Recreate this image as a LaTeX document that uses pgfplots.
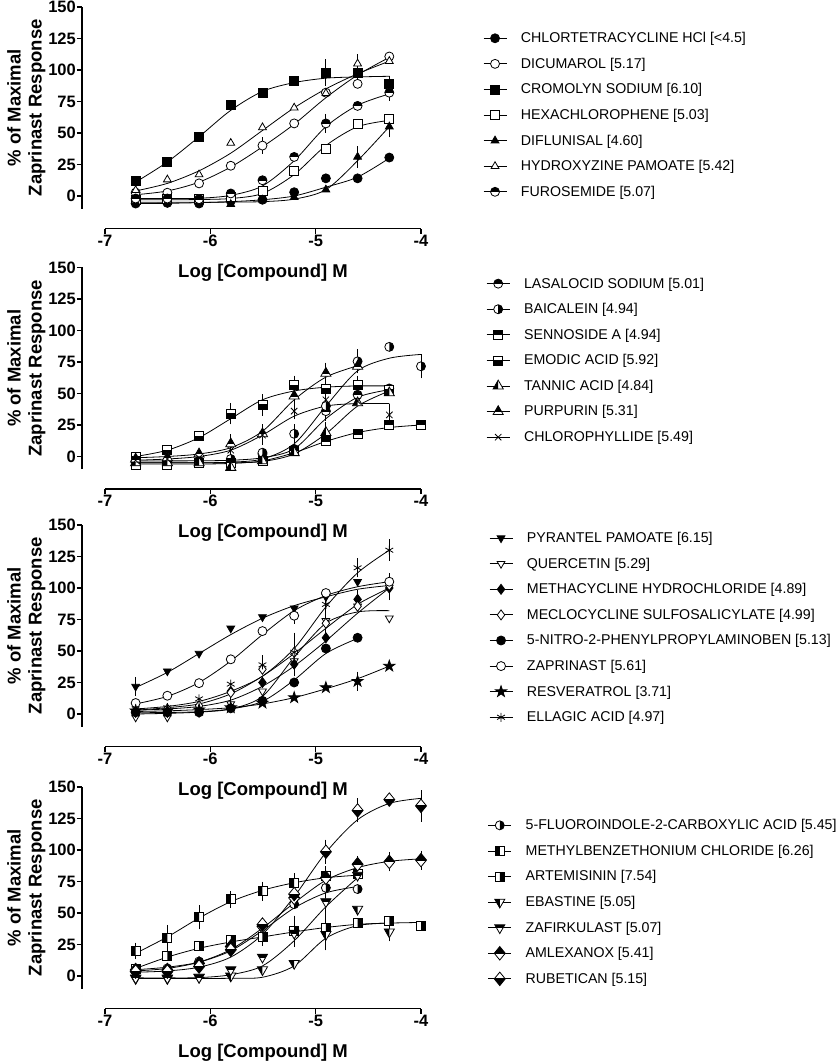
\documentclass[border=0pt]{standalone}
\usepackage{pgfplots}
\pgfplotsset{compat=1.18}
\usepackage{fontspec}
\setmainfont{Liberation Sans}

% ---------- half-filled marks ----------
\newcommand\shpcirc{\pgfpathcircle{\pgfpointorigin}{\pgfplotmarksize}}
\newcommand\shpsq{\pgfpathrectangle{\pgfqpoint{-\pgfplotmarksize}{-\pgfplotmarksize}}{\pgfqpoint{2\pgfplotmarksize}{2\pgfplotmarksize}}}
\newcommand\shptri{\pgfpathmoveto{\pgfpointpolar{90}{1.3\pgfplotmarksize}}\pgfpathlineto{\pgfpointpolar{210}{1.3\pgfplotmarksize}}\pgfpathlineto{\pgfpointpolar{330}{1.3\pgfplotmarksize}}\pgfpathclose}
\newcommand\shpdtri{\pgfpathmoveto{\pgfpointpolar{270}{1.3\pgfplotmarksize}}\pgfpathlineto{\pgfpointpolar{30}{1.3\pgfplotmarksize}}\pgfpathlineto{\pgfpointpolar{150}{1.3\pgfplotmarksize}}\pgfpathclose}
\newcommand\shpdia{\pgfpathmoveto{\pgfqpoint{0pt}{1.35\pgfplotmarksize}}\pgfpathlineto{\pgfqpoint{1.1\pgfplotmarksize}{0pt}}\pgfpathlineto{\pgfqpoint{0pt}{-1.35\pgfplotmarksize}}\pgfpathlineto{\pgfqpoint{-1.1\pgfplotmarksize}{0pt}}\pgfpathclose}
\newcommand\clT{\pgfpathrectangle{\pgfqpoint{-1.4\pgfplotmarksize}{0pt}}{\pgfqpoint{2.8\pgfplotmarksize}{1.4\pgfplotmarksize}}}
\newcommand\clB{\pgfpathrectangle{\pgfqpoint{-1.4\pgfplotmarksize}{-1.4\pgfplotmarksize}}{\pgfqpoint{2.8\pgfplotmarksize}{1.4\pgfplotmarksize}}}
\newcommand\clL{\pgfpathrectangle{\pgfqpoint{-1.4\pgfplotmarksize}{-1.4\pgfplotmarksize}}{\pgfqpoint{1.4\pgfplotmarksize}{2.8\pgfplotmarksize}}}
\newcommand\clR{\pgfpathrectangle{\pgfqpoint{0pt}{-1.4\pgfplotmarksize}}{\pgfqpoint{1.4\pgfplotmarksize}{2.8\pgfplotmarksize}}}
\newcommand\halfmark[3]{\pgfdeclareplotmark{#1}{#2\pgfsetfillcolor{white}\pgfusepathqfill
  \begin{pgfscope}#3\pgfusepathqclip #2\pgfsetfillcolor{black}\pgfusepathqfill\end{pgfscope}#2\pgfusepathqstroke}}
\halfmark{hcT}{\shpcirc}{\clT}
\halfmark{hcR}{\shpcirc}{\clR}
\halfmark{hsT}{\shpsq}{\clT}
\halfmark{hsB}{\shpsq}{\clB}
\halfmark{hsL}{\shpsq}{\clL}
\halfmark{hsR}{\shpsq}{\clR}
\halfmark{htL}{\shptri}{\clL}
\halfmark{htT}{\shptri}{\clT}
\halfmark{hdL}{\shpdtri}{\clL}
\halfmark{hdT}{\shpdtri}{\clT}
\halfmark{hdiT}{\shpdia}{\clT}
\halfmark{hdiB}{\shpdia}{\clB}
\pgfdeclareplotmark{fstar}{%
 \pgfpathmoveto{\pgfpointpolar{90}{1.3\pgfplotmarksize}}%
 \pgfpathlineto{\pgfpointpolar{126}{0.5\pgfplotmarksize}}%
 \pgfpathlineto{\pgfpointpolar{162}{1.3\pgfplotmarksize}}%
 \pgfpathlineto{\pgfpointpolar{198}{0.5\pgfplotmarksize}}%
 \pgfpathlineto{\pgfpointpolar{234}{1.3\pgfplotmarksize}}%
 \pgfpathlineto{\pgfpointpolar{270}{0.5\pgfplotmarksize}}%
 \pgfpathlineto{\pgfpointpolar{306}{1.3\pgfplotmarksize}}%
 \pgfpathlineto{\pgfpointpolar{342}{0.5\pgfplotmarksize}}%
 \pgfpathlineto{\pgfpointpolar{18}{1.3\pgfplotmarksize}}%
 \pgfpathlineto{\pgfpointpolar{54}{0.5\pgfplotmarksize}}%
 \pgfpathclose\pgfsetfillcolor{black}\pgfusepathqfillstroke}

\pgfplotsset{
  prism/.style={
    scale only axis, width=316pt, height=201.6pt,
    xmin=-7, xmax=-4, ymin=-10, ymax=150,
    axis x line*=bottom, axis y line*=left,
    axis x line shift=20pt, axis y line shift=23pt,
    xtick={-7,-6,-5,-4}, ytick={0,25,50,75,100,125,150},
    tick align=outside, major tick length=5pt,
    every tick/.style={black, line width=1.5pt},
    axis line style={black, line width=1.6pt},
    /pgf/number format/assume math mode=true,
    xticklabel={\fontsize{16.5}{16.5}\selectfont\bfseries\pgfmathprintnumber{\tick}},
    yticklabel={\fontsize{16.5}{16.5}\selectfont\bfseries\pgfmathprintnumber{\tick}},
    xticklabel style={inner sep=1pt},
    yticklabel style={inner sep=1pt},
    xlabel={Log [Compound] M},
    ylabel={\% of Maximal\\Zaprinast Response},
    label style={font=\bfseries\fontsize{18.5}{21}\selectfont},
    xlabel style={yshift=-13pt},
    ylabel style={align=center, at={(axis description cs:0,0.5)}, anchor=south, yshift=56pt},
    clip=false,
    legend style={draw=none, fill=none, anchor=north west, inner sep=0pt,
       font=\fontsize{14.2}{17}\selectfont, row sep=9.8pt,
       /tikz/every odd column/.append style={column sep=12pt}},
    legend cell align=left,
    legend image code/.code={\draw[black, line width=0.8pt] (0pt,0pt) -- (23pt,0pt); \draw[##1] plot coordinates {(11.5pt,0pt)};},
  },
  cv/.style={forget plot, smooth, no markers, black, line width=0.8pt},
  dp/.style={only marks, black, line width=0.8pt, mark size=4.5pt,
     error bars/y dir=both, error bars/y explicit,
     error bars/error bar style={line width=0.8pt},
     error bars/error mark options={mark size=4.5pt, line width=0.8pt}},
  wf/.style={mark options={fill=white}},
  bf/.style={mark options={fill=black}},
}

\begin{document}
\begin{tikzpicture}
\useasboundingbox (0pt,0pt) rectangle (839pt,1062pt);

% ================= Panel 1 =================
\begin{axis}[prism, at={(105pt,853.4pt)}, anchor=south west,
  legend style={at={(1.196,0.885)}}]
\addplot[cv] coordinates {(-6.709,-6)(-6.408,-5.8)(-6.107,-5.3)(-5.806,-4.5)(-5.505,-3)(-5.204,0)(-4.903,7)(-4.602,15)(-4.301,30)};
\addplot[cv] coordinates {(-6.709,1)(-6.408,4)(-6.107,11)(-5.806,23)(-5.505,39)(-5.204,57)(-4.903,78)(-4.602,96)(-4.301,110)};
\addplot[cv] coordinates {(-6.709,11)(-6.408,27)(-6.107,47)(-5.806,68)(-5.505,83)(-5.204,90)(-4.903,93.5)(-4.602,94.5)(-4.301,95)};
\addplot[cv] coordinates {(-6.709,-3)(-6.408,-3)(-6.107,-2.8)(-5.806,-2)(-5.505,2)(-5.204,17)(-4.903,40)(-4.602,55)(-4.301,60)};
\addplot[cv] coordinates {(-6.709,-5)(-6.408,-5)(-6.107,-5)(-5.806,-4.8)(-5.505,-4.5)(-5.204,-2.5)(-4.903,5)(-4.602,28)(-4.301,55)};
\addplot[cv] coordinates {(-6.709,4)(-6.408,10)(-6.107,20)(-5.806,34)(-5.505,52)(-5.204,70)(-4.903,85)(-4.602,97)(-4.301,107)};
\addplot[cv] coordinates {(-6.709,-2)(-6.408,-2)(-6.107,-1.8)(-5.806,0.5)(-5.505,8)(-5.204,28)(-4.903,55)(-4.602,72)(-4.301,81)};

\addplot[dp, mark=*, bf] coordinates {(-6.709,-6)(-6.408,-5.5)(-6.107,-6)(-5.806,-4)(-5.505,-3)(-5.204,3)(-4.903,14)(-4.602,14)(-4.301,30.5)};
\addlegendentry{CHLORTETRACYCLINE HCl [<4.5]}
\addplot[dp, mark=*, wf] coordinates {(-6.709,2.7)(-6.408,2.6)(-6.107,10)(-5.806,24)(-5.505,40) +- (0,3)(-5.204,57.6)(-4.903,82)(-4.602,89)(-4.301,110.7)};
\addlegendentry{DICUMAROL [5.17]}
\addplot[dp, mark=square*, bf] coordinates {(-6.709,12)(-6.408,27)(-6.107,47)(-5.806,72)(-5.505,82)(-5.204,91.6)(-4.903,98) +- (0,7)(-4.602,98) +- (0,3)(-4.301,89) +- (0,3)};
\addlegendentry{CROMOLYN SODIUM [6.10]}
\addplot[dp, mark=square*, wf] coordinates {(-6.709,-3.5)(-6.408,-2.7)(-6.107,-2.7)(-5.806,-1)(-5.505,4)(-5.204,20)(-4.903,37)(-4.602,57)(-4.301,61)};
\addlegendentry{HEXACHLOROPHENE [5.03]}
\addplot[dp, mark=triangle*, bf] coordinates {(-6.709,-5)(-6.408,-5)(-6.107,-5)(-5.806,-6.6)(-5.505,-3)(-5.204,-1)(-4.903,5)(-4.602,31) +- (0,5)(-4.301,55) +- (0,5)};
\addlegendentry{DIFLUNISAL [4.60]}
\addplot[dp, mark=triangle*, wf] coordinates {(-6.709,4.5)(-6.408,13)(-6.107,17)(-5.806,42)(-5.505,54.4)(-5.204,70)(-4.903,81.5)(-4.602,105) +- (0,4)(-4.301,107)};
\addlegendentry{HYDROXYZINE PAMOATE [5.42]}
\addplot[dp, mark=hcT] coordinates {(-6.709,-2)(-6.408,-2)(-6.107,-2.5)(-5.806,2)(-5.505,12.5)(-5.204,31)(-4.903,57.6) +- (0,4)(-4.602,71.5)(-4.301,82) +- (0,3)};
\addlegendentry{FUROSEMIDE [5.07]}
\end{axis}

% ================= Panel 2 =================
\begin{axis}[prism, at={(105pt,592.9pt)}, anchor=south west,
  legend style={at={(1.206,0.96)}}]
\addplot[cv] coordinates {(-6.709,-3.5)(-6.408,-3.5)(-6.107,-3.4)(-5.806,-3)(-5.505,-1)(-5.204,6)(-4.903,30)(-4.602,47)(-4.301,53)};
\addplot[cv] coordinates {(-6.709,-5)(-6.408,-5)(-6.107,-5)(-5.806,-4.5)(-5.505,-2)(-5.204,10)(-4.903,40)(-4.602,68)(-4.301,78)(-4.0,81)};
\addplot[cv] coordinates {(-6.709,-6)(-6.408,-6)(-6.107,-6)(-5.806,-5.5)(-5.505,-3.5)(-5.204,3)(-4.903,12)(-4.602,19)(-4.301,23)(-4.0,25)};
\addplot[cv] coordinates {(-6.709,0)(-6.408,5)(-6.107,15)(-5.806,30)(-5.505,45)(-5.204,52)(-4.903,55)(-4.602,56)(-4.301,56)};
\addplot[cv] coordinates {(-6.709,-5)(-6.408,-5)(-6.107,-5)(-5.806,-5)(-5.505,-4)(-5.204,2)(-4.903,18)(-4.602,40)(-4.301,52)};
\addplot[cv] coordinates {(-6.709,-1)(-6.408,0)(-6.107,2)(-5.806,7)(-5.505,20)(-5.204,45)(-4.903,63)(-4.602,72)};
\addplot[cv] coordinates {(-6.709,-3)(-6.408,-2)(-6.107,0)(-5.806,5)(-5.505,17)(-5.204,32)(-4.903,40)(-4.602,42)(-4.301,42)};

\addplot[dp, mark=hcT] coordinates {(-6.709,-3.5)(-6.408,-3.5)(-6.107,-3.5)(-5.806,-3.5)(-5.505,2)(-5.204,6)(-4.903,36) +- (0,4)(-4.602,49)(-4.301,54)};
\addlegendentry{LASALOCID SODIUM [5.01]}
\addplot[dp, mark=hcR] coordinates {(-6.709,-5)(-6.408,-5)(-6.107,-5)(-5.806,-2)(-5.505,3)(-5.204,18) +- (0,4)(-4.903,40) +- (0,5)(-4.602,75.5) +- (0,6)(-4.301,87)(-4.0,71.6) +- (0,6)};
\addlegendentry{BAICALEIN [4.94]}
\addplot[dp, mark=hsT] coordinates {(-6.709,-7)(-6.408,-7)(-6.107,-5)(-5.806,-5)(-5.505,-3.5)(-5.204,4.5)(-4.903,12)(-4.602,17.6)(-4.301,25)(-4.0,25)};
\addlegendentry{SENNOSIDE A [4.94]}
\addplot[dp, mark=hsB] coordinates {(-6.709,0)(-6.408,5)(-6.107,16)(-5.806,34) +- (0,5)(-5.505,41) +- (0,5)(-5.204,56.6) +- (0,4)(-4.903,54)(-4.602,56.6) +- (0,4)(-4.301,53)};
\addlegendentry{EMODIC ACID [5.92]}
\addplot[dp, mark=htL] coordinates {(-6.709,-5)(-6.408,-5)(-6.107,-5)(-5.806,-8.7)(-5.505,-3.5)(-5.204,3)(-4.903,19) +- (0,5)(-4.602,42.6)(-4.301,50.5)};
\addlegendentry{TANNIC ACID [4.84]}
\addplot[dp, mark=htT] coordinates {(-6.709,-2)(-6.408,-1)(-6.107,2)(-5.806,10) +- (0,4)(-5.505,18) +- (0,4)(-5.204,48) +- (0,4)(-4.903,66) +- (0,5)(-4.602,71.6)};
\addlegendentry{PURPURIN [5.31]}
\addplot[dp, mark=x] coordinates {(-6.709,-3)(-6.408,-2)(-6.107,-1)(-5.806,5) +- (0,3)(-5.505,17) +- (0,4)(-5.204,36) +- (0,3)(-4.903,45) +- (0,4)(-4.602,44)(-4.301,33) +- (0,5)};
\addlegendentry{CHLOROPHYLLIDE [5.49]}
\end{axis}

% ================= Panel 3 =================
\begin{axis}[prism, at={(105pt,335.4pt)}, anchor=south west,
  legend style={at={(1.215,0.975)}}]
\addplot[cv] coordinates {(-6.709,21)(-6.408,33)(-6.107,48)(-5.806,63)(-5.505,76)(-5.204,86)(-4.903,93)(-4.602,99)(-4.301,102)};
\addplot[cv] coordinates {(-6.709,0)(-6.408,0.5)(-6.107,1.5)(-5.806,4)(-5.505,14)(-5.204,45)(-4.903,72)(-4.602,81)(-4.301,82)};
\addplot[cv] coordinates {(-6.709,3)(-6.408,4)(-6.107,6)(-5.806,11)(-5.505,22)(-5.204,38)(-4.903,58)(-4.602,80)(-4.301,100)};
\addplot[cv] coordinates {(-6.709,3)(-6.408,5)(-6.107,8)(-5.806,16)(-5.505,30)(-5.204,48)(-4.903,68)(-4.602,87)(-4.301,100)};
\addplot[cv] coordinates {(-6.709,1)(-6.408,1.2)(-6.107,1.8)(-5.806,4)(-5.505,10)(-5.204,27)(-4.903,48)(-4.602,60)};
\addplot[cv] coordinates {(-6.709,8)(-6.408,14)(-6.107,25)(-5.806,42)(-5.505,63)(-5.204,82)(-4.903,94)(-4.602,101)(-4.301,105)};
\addplot[cv] coordinates {(-6.709,2)(-6.408,2.5)(-6.107,3.5)(-5.806,5)(-5.505,8)(-5.204,13)(-4.903,20)(-4.602,28)(-4.301,38)};
\addplot[cv] coordinates {(-6.709,4)(-6.408,6)(-6.107,10)(-5.806,18)(-5.505,30)(-5.204,52)(-4.903,85)(-4.602,112)(-4.301,130)};

\addplot[dp, mark=triangle*, mark options={fill=black, rotate=180}] coordinates {(-6.709,21.8) +- (0,4)(-6.408,34)(-6.107,48)(-5.806,68)(-5.505,77)(-5.204,84)(-4.903,93)(-4.602,105)(-4.301,102.6)};
\addlegendentry{PYRANTEL PAMOATE [6.15]}
\addplot[dp, mark=triangle*, mark options={fill=white, rotate=180}] coordinates {(-6.709,-2.6)(-6.408,-2.6)(-6.107,1)(-5.806,8) +- (0,2)(-5.505,18)(-5.204,42)(-4.903,74) +- (0,4)(-4.602,85.5)(-4.301,76)};
\addlegendentry{QUERCETIN [5.29]}
\addplot[dp, mark=diamond*, bf, mark size=5pt] coordinates {(-6.709,1.3)(-6.408,1.3)(-6.107,2.6)(-5.806,18)(-5.505,25)(-5.204,39.5) +- (0,6)(-4.903,60.5)(-4.602,91) +- (0,4)(-4.301,100) +- (0,6)};
\addlegendentry{METHACYCLINE HYDROCHLORIDE [4.89]}
\addplot[dp, mark=diamond*, wf, mark size=5pt] coordinates {(-6.709,2.6)(-6.408,4)(-6.107,6.6)(-5.806,17)(-5.505,35.5)(-5.204,49)(-4.903,72) +- (0,4)(-4.602,85.5)(-4.301,102)};
\addlegendentry{MECLOCYCLINE SULFOSALICYLATE [4.99]}
\addplot[dp, mark=*, bf] coordinates {(-6.709,1.3)(-6.408,1.3)(-6.107,1.3)(-5.806,4.5)(-5.505,10.5)(-5.204,25)(-4.903,52)(-4.602,60.5)};
\addlegendentry{5-NITRO-2-PHENYLPROPYLAMINOBEN [5.13]}
\addplot[dp, mark=*, wf] coordinates {(-6.709,8.7)(-6.408,14.5)(-6.107,24.5)(-5.806,43.4)(-5.505,65.8)(-5.204,78) +- (0,3)(-4.903,96)(-4.301,105) +- (0,3)};
\addlegendentry{ZAPRINAST [5.61]}
\addplot[dp, mark=fstar] coordinates {(-6.709,2.6)(-6.408,2.6)(-6.107,3.4)(-5.806,5)(-5.505,8.7)(-5.204,13)(-4.903,21)(-4.602,26) +- (0,4)(-4.301,38)};
\addlegendentry{RESVERATROL [3.71]}
\addplot[dp, mark=asterisk] coordinates {(-6.709,4)(-6.408,5)(-6.107,12)(-5.806,23.7)(-5.505,39) +- (0,4)(-5.204,49) +- (0,12)(-4.903,87) +- (0,4)(-4.602,116) +- (0,4)(-4.301,130) +- (0,5)};
\addlegendentry{ELLAGIC ACID [4.97]}
\end{axis}

% ================= Panel 4 =================
\begin{axis}[prism, at={(105pt,73.4pt)}, anchor=south west,
  legend style={at={(1.211,0.85)}}]
\addplot[cv] coordinates {(-6.709,5)(-6.408,7)(-6.107,11)(-5.806,20)(-5.505,36)(-5.204,54)(-4.903,66)(-4.602,71)};
\addplot[cv] coordinates {(-6.709,18)(-6.408,31)(-6.107,46)(-5.806,59)(-5.505,68)(-5.204,74)(-4.903,78)(-4.602,80)};
\addplot[cv] coordinates {(-6.709,6)(-6.408,15)(-6.107,22)(-5.806,27)(-5.505,31)(-5.204,35)(-4.903,38.5)(-4.602,41)(-4.301,42)(-4.0,42.5)};
\addplot[cv] coordinates {(-6.709,-2)(-6.408,-2)(-6.107,-2)(-5.806,-1.8)(-5.505,-1)(-5.204,8)(-4.903,30)(-4.602,40)(-4.301,42)};
\addplot[cv] coordinates {(-6.709,-1.5)(-6.408,-1.5)(-6.107,-1.3)(-5.806,1)(-5.505,8)(-5.204,28)(-4.903,55)(-4.602,78)};
\addplot[cv] coordinates {(-6.709,4)(-6.408,6)(-6.107,11)(-5.806,21)(-5.505,38)(-5.204,58)(-4.903,76)(-4.602,86)(-4.301,91)(-4.0,93)};
\addplot[cv] coordinates {(-6.709,3)(-6.408,4)(-6.107,7)(-5.806,15)(-5.505,33)(-5.204,63)(-4.903,98)(-4.602,124)(-4.301,137)(-4.0,141)};

\addplot[dp, mark=hcR] coordinates {(-6.709,5)(-6.408,6)(-6.107,11.5)(-5.806,22.6)(-5.505,40)(-5.204,57)(-4.903,70) +- (0,3)(-4.602,69)};
\addlegendentry{5-FLUOROINDOLE-2-CARBOXYLIC ACID [5.45]}
\addplot[dp, mark=hsL] coordinates {(-6.709,20) +- (0,3)(-6.408,30) +- (0,7)(-6.107,46.6) +- (0,6)(-5.806,60.8) +- (0,3)(-5.505,67.4) +- (0,4)(-5.204,74) +- (0,4)(-4.903,79.4) +- (0,4)(-4.602,80.7)};
\addlegendentry{METHYLBENZETHONIUM CHLORIDE [6.26]}
\addplot[dp, mark=hsR] coordinates {(-6.709,6)(-6.408,16)(-6.107,23.5)(-5.806,28.8)(-5.505,31.4) +- (0,4)(-5.204,35.4) +- (0,9)(-4.903,38)(-4.602,42)(-4.301,43.4)(-4.0,40)};
\addlegendentry{ARTEMISININ [7.54]}
\addplot[dp, mark=hdL] coordinates {(-6.709,-2)(-6.408,-2)(-6.107,-1)(-5.806,0)(-5.505,5)(-5.204,10)(-4.903,33) +- (0,9)(-4.602,53)(-4.301,35) +- (0,4)};
\addlegendentry{EBASTINE [5.05]}
\addplot[dp, mark=hdT] coordinates {(-6.709,-1.5)(-6.408,-1.5)(-6.107,-1)(-5.806,5)(-5.505,15)(-5.204,34)(-4.903,59) +- (0,12)(-4.602,80)};
\addlegendentry{ZAFIRKULAST [5.07]}
\addplot[dp, mark=hdiT, mark size=5pt] coordinates {(-6.709,4.8)(-6.408,4.8)(-6.107,10)(-5.806,23.4)(-5.505,39.4)(-5.204,62)(-4.903,78) +- (0,4)(-4.602,88.7) +- (0,3)(-4.301,90.6) +- (0,4)(-4.0,92) +- (0,4)};
\addlegendentry{AMLEXANOX [5.41]}
\addplot[dp, mark=hdiB, mark size=5pt] coordinates {(-6.709,3.5)(-6.408,3.5)(-6.107,7.5)(-5.806,20.8)(-5.505,40.8)(-5.204,65)(-4.903,98.6) +- (0,6)(-4.602,131.4) +- (0,6)(-4.301,140)(-4.0,135) +- (0,9)};
\addlegendentry{RUBETICAN [5.15]}
\end{axis}
\end{tikzpicture}
\end{document}
